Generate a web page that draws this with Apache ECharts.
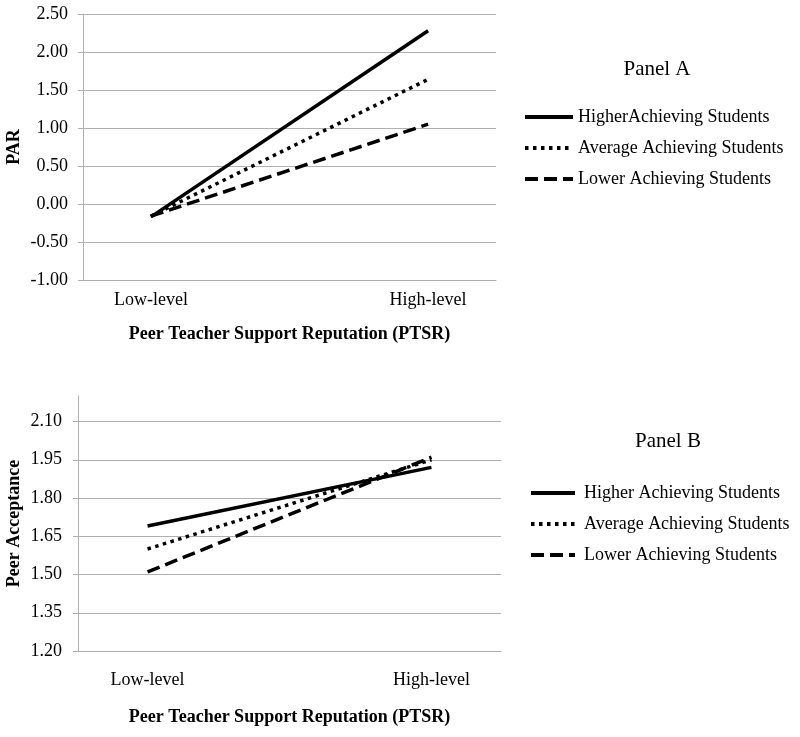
<!DOCTYPE html>
<html>
<head>
<meta charset="utf-8">
<script src="https://cdn.jsdelivr.net/npm/echarts@6/dist/echarts.min.js"></script>
<style>
html, body { margin: 0; padding: 0; background: #fff; }
#chart { width: 800px; height: 737px; }
</style>
</head>
<body>
<div id="chart"></div>
<script>
const categories = ['Low-level', 'High-level'];
const yTicksA = [-1.00, -0.50, 0.00, 0.50, 1.00, 1.50, 2.00, 2.50];
const yTicksB = [1.20, 1.35, 1.50, 1.65, 1.80, 1.95, 2.10];

const namesA = ['HigherAchieving Students', 'Average Achieving Students', 'Lower Achieving Students'];
const namesB = ['Higher Achieving Students', 'Average Achieving Students', 'Lower Achieving Students'];

const parHigher = [-0.17, 2.28];
const parAverage = [-0.16, 1.64];
const parLower = [-0.16, 1.05];

const accHigher = [1.69, 1.92];
const accAverage = [1.60, 1.95];
const accLower = [1.51, 1.96];

const FONT = '"Liberation Serif", "Times New Roman", serif';
const GRID_COLOR = '#b0b0b0';

const styles = [
  { type: 'solid', width: 3.5 },
  { type: [3.5, 4.5], width: 3.5 },
  { type: [13, 6], width: 3.5 }
];

function toPoints(arr) {
  return categories.map((c, i) => [i, arr[i]]);
}

function makeSeries(names, arrays, idx) {
  return arrays.map((arr, k) => ({
    name: names[k],
    type: 'line',
    xAxisIndex: idx,
    yAxisIndex: idx,
    symbol: 'none',
    data: toPoints(arr),
    lineStyle: { color: '#000', width: styles[k].width, type: styles[k].type, cap: 'butt' },
    itemStyle: { color: '#000' },
    z: 3 + (2 - k)
  }));
}

function xAxisCfg(idx, labelMargin, nameGap) {
  return {
    type: 'value',
    gridIndex: idx,
    min: -0.245,
    max: 1.245,
    name: 'Peer Teacher Support Reputation (PTSR)',
    nameLocation: 'middle',
    nameGap: nameGap,
    nameMoveOverlap: false,
    nameTextStyle: { fontFamily: FONT, fontWeight: 'bold', fontSize: 18, color: '#000' },
    axisLine: { show: true, onZero: false, lineStyle: { color: GRID_COLOR, width: 1 } },
    axisTick: { show: false },
    splitLine: { show: false },
    axisLabel: {
      customValues: categories.map((c, i) => i),
      formatter: v => categories[Math.round(v)],
      margin: labelMargin,
      fontFamily: FONT,
      fontSize: 18,
      color: '#000'
    }
  };
}

function yAxisCfg(idx, ticks, min, max, name, nameGap, margin) {
  return {
    type: 'value',
    gridIndex: idx,
    min: min,
    max: max,
    name: name,
    nameLocation: 'middle',
    nameGap: nameGap,
    nameMoveOverlap: false,
    nameRotate: 90,
    nameTextStyle: { fontFamily: FONT, fontWeight: 'bold', fontSize: 18, color: '#000' },
    axisLine: { show: true, onZero: false, lineStyle: { color: GRID_COLOR, width: 1 } },
    axisTick: { show: true, customValues: ticks, length: 5, lineStyle: { color: GRID_COLOR, width: 1 } },
    splitLine: { show: true, lineStyle: { color: GRID_COLOR, width: 1 } },
    axisLabel: {
      customValues: ticks,
      formatter: v => Number(v).toFixed(2),
      margin: margin,
      fontFamily: FONT,
      fontSize: 18,
      color: '#000'
    }
  };
}

const chart = echarts.init(document.getElementById('chart'), null, { renderer: 'canvas' });

const option = {
  animation: false,
  backgroundColor: '#fff',
  textStyle: { fontFamily: FONT },
  grid: [
    { left: 83, width: 413, top: 14, height: 266, containLabel: false, outerBoundsMode: 'none' },
    { left: 78, width: 423, top: 396, height: 255, containLabel: false, outerBoundsMode: 'none' }
  ],
  xAxis: [
    xAxisCfg(0, 11, 45),
    xAxisCfg(1, 20, 57)
  ],
  yAxis: [
    yAxisCfg(0, yTicksA, -1.0, 2.5, 'PAR', 60, 15),
    yAxisCfg(1, yTicksB, 1.2, 2.2, 'Peer Acceptance', 55, 16)
  ],
  legend: [
    {
      data: namesA,
      orient: 'vertical',
      left: 523,
      top: 107,
      padding: 0,
      itemWidth: 48,
      itemHeight: 14,
      itemGap: 11,
      selectedMode: false,
      itemStyle: { color: 'rgba(0,0,0,0)', borderColor: 'rgba(0,0,0,0)', borderWidth: 0 },
      lineStyle: { width: 4 },
      textStyle: { fontFamily: FONT, fontSize: 18, color: '#000', lineHeight: 20 }
    },
    {
      data: namesB,
      orient: 'vertical',
      left: 529,
      top: 483,
      padding: 0,
      itemWidth: 44,
      itemHeight: 14,
      itemGap: 11,
      selectedMode: false,
      itemStyle: { color: 'rgba(0,0,0,0)', borderColor: 'rgba(0,0,0,0)', borderWidth: 0 },
      lineStyle: { width: 4 },
      textStyle: { fontFamily: FONT, fontSize: 18, color: '#000', lineHeight: 20, padding: [0, 0, 0, 4] }
    }
  ],
  graphic: [
    { type: 'text', x: 657, y: 69, style: { text: 'Panel A', font: '21px ' + FONT, fill: '#000', textAlign: 'center', textVerticalAlign: 'middle' } },
    { type: 'text', x: 668, y: 441, style: { text: 'Panel B', font: '21px ' + FONT, fill: '#000', textAlign: 'center', textVerticalAlign: 'middle' } }
  ],
  series: [].concat(
    makeSeries(namesA, [parHigher, parAverage, parLower], 0),
    makeSeries(namesB, [accHigher, accAverage, accLower], 1)
  )
};

chart.setOption(option);
</script>
</body>
</html>
